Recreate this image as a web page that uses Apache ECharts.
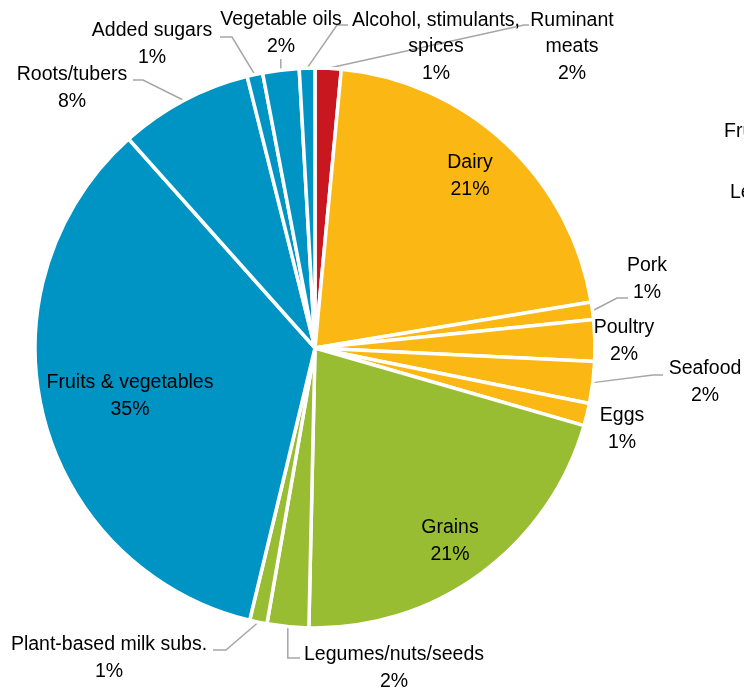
<!DOCTYPE html>
<html>
<head>
<meta charset="utf-8">
<style>
  html, body { margin: 0; padding: 0; background: #ffffff; }
  #chart { width: 744px; height: 688px; }
</style>
<script src="https://cdn.jsdelivr.net/npm/echarts@6/dist/echarts.min.js"></script>
</head>
<body>
<div id="chart"></div>
<script>
// Food groups, clockwise from 12 o'clock
const categories = [
  'Ruminant meats', 'Dairy', 'Pork', 'Poultry', 'Seafood', 'Eggs',
  'Grains', 'Legumes/nuts/seeds', 'Plant-based milk subs.',
  'Fruits & vegetables', 'Roots/tubers', 'Added sugars',
  'Vegetable oils', 'Alcohol, stimulants, spices'
];
// Share of total (%)
const shares = [1.5, 20.9, 1.0, 2.4, 2.4, 1.3, 20.9, 2.4, 1.0, 34.7, 7.7, 0.9, 2.1, 0.9];
// Group each slice belongs to
const groups = ['meat', 'animal', 'animal', 'animal', 'animal', 'animal',
  'grain', 'grain', 'grain', 'plant', 'plant', 'plant', 'plant', 'plant'];
// Label text lines (name broken where the label wraps)
const labelNames = [
  'Ruminant\nmeats', 'Dairy', 'Pork', 'Poultry', 'Seafood', 'Eggs',
  'Grains', 'Legumes/nuts/seeds', 'Plant-based milk subs.',
  'Fruits & vegetables', 'Roots/tubers', 'Added sugars',
  'Vegetable oils', 'Alcohol, stimulants,\nspices'
];

const groupColors = {
  meat: '#C8171E',
  animal: '#FBB714',
  grain: '#98BD33',
  plant: '#0094C5'
};

// Where each label sits (centre of the text block) and how its leader line bends
const labelPlacement = [
  { x: 572, y: 47, line: [[524, 25], [529, 25]] },
  { x: 470, y: 176 },
  { x: 647, y: 279, line: [[617, 298], [628, 298]] },
  { x: 624, y: 341 },
  { x: 705, y: 382, line: [[653, 375], [663, 375]] },
  { x: 622, y: 429 },
  { x: 450, y: 541 },
  { x: 394, y: 668, line: [[null, 658], [300, 658]] },
  { x: 109, y: 658, line: [[226, 650], [213, 650]] },
  { x: 130, y: 396 },
  { x: 72, y: 88, line: [[143, 80], [133, 80]] },
  { x: 152, y: 44, line: [[232, 37], [220, 37]] },
  { x: 281, y: 33, line: [[null, 61], [null, 59]] },
  { x: 436, y: 47, line: [[337, 25], [348, 25]] }
];

const FONT = "'Liberation Sans', Arial, sans-serif";
const FONT_SIZE = 19.5;

const chart = echarts.init(document.getElementById('chart'), null, { renderer: 'canvas' });

const pieData = categories.map((name, i) => ({
  name: name,
  value: shares[i],
  itemStyle: { color: groupColors[groups[i]] },
  labelLine: { show: !!labelPlacement[i].line }
}));

chart.setOption({
  backgroundColor: '#ffffff',
  animation: false,
  graphic: [
    { type: 'text', left: 724, top: 122,
      style: { text: 'Fruits & vegetables', font: FONT_SIZE + 'px ' + FONT, fill: '#000' } },
    { type: 'text', left: 730, top: 183,
      style: { text: 'Legumes/nuts/seeds', font: FONT_SIZE + 'px ' + FONT, fill: '#000' } }
  ],
  series: [{
    type: 'pie',
    center: [315, 348],
    radius: [0, 280],
    startAngle: 90,
    clockwise: true,
    avoidLabelOverlap: false,
    minShowLabelAngle: 0,
    data: pieData,
    itemStyle: { borderColor: '#ffffff', borderWidth: 3.5 },
    label: {
      show: true,
      position: 'outside',
      formatter: p => labelNames[p.dataIndex] + '\n' + Math.round(p.percent) + '%',
      fontFamily: FONT,
      fontSize: FONT_SIZE,
      lineHeight: 26.5,
      color: '#000000',
      align: 'center'
    },
    labelLine: {
      show: true,
      lineStyle: { color: '#A6A6A6', width: 1.5 }
    },
    labelLayout: function (params) {
      const spec = labelPlacement[params.dataIndex];
      const out = { x: spec.x, y: spec.y, align: 'center', verticalAlign: 'middle' };
      if (spec.line && params.labelLinePoints) {
        const start = params.labelLinePoints[0];
        const pts = [start.slice()];
        spec.line.forEach(pt => {
          pts.push([pt[0] == null ? start[0] : pt[0], pt[1]]);
        });
        out.labelLinePoints = pts;
      }
      return out;
    }
  }]
});
</script>
</body>
</html>
